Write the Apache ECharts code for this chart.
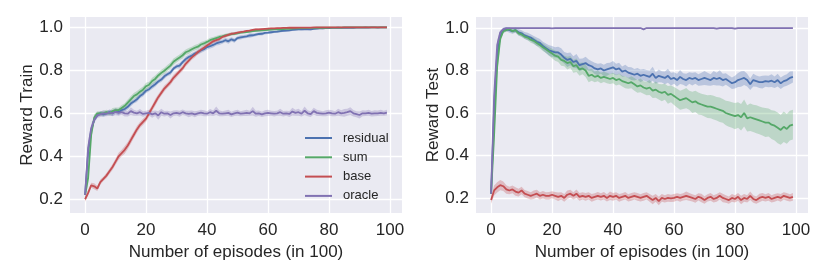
<!DOCTYPE html>
<html>
<head>
<meta charset="utf-8">
<script src="https://cdn.jsdelivr.net/npm/echarts@6/dist/echarts.min.js"></script>
<style>html,body{margin:0;padding:0;background:#fff}#c{width:830px;height:277px}</style>
</head>
<body>
<div id="c"></div>
<script>
// ---------- data ----------
const episodes = Array.from({length: 100}, (_, i) => i);
const xTicks = [0, 20, 40, 60, 80, 100];
const yTicks = [0.2, 0.4, 0.6, 0.8, 1.0];
const seriesNames = ['residual', 'sum', 'base', 'oracle'];

// Reward Train (means)
const trainResidual = [0.22,0.42,0.52,0.57,0.59,0.60,0.595,0.60,0.605,0.60,
0.61,0.605,0.615,0.62,0.63,0.645,0.655,0.665,0.68,0.69,
0.705,0.712,0.725,0.735,0.748,0.757,0.772,0.782,0.79,0.808,
0.818,0.822,0.838,0.852,0.862,0.868,0.878,0.884,0.893,0.898,
0.908,0.912,0.918,0.925,0.93,0.933,0.94,0.935,0.944,0.938,
0.95,0.953,0.956,0.958,0.962,0.963,0.966,0.969,0.97,0.974,
0.975,0.977,0.979,0.98,0.982,0.984,0.985,0.986,0.988,0.989,
0.99,0.99,0.991,0.992,0.99,0.993,0.994,0.995,0.995,0.996,
0.996,0.997,0.997,0.998,0.997,0.998,0.998,0.999,0.998,0.999,
0.999,0.999,1.0,0.999,1.0,1.0,0.999,1.0,1.0,1.0];
const trainSum = [0.22,0.30,0.50,0.58,0.60,0.60,0.60,0.605,0.60,0.61,
0.615,0.615,0.625,0.635,0.65,0.665,0.68,0.688,0.70,0.71,
0.726,0.733,0.75,0.76,0.776,0.788,0.798,0.81,0.822,0.84,
0.85,0.86,0.87,0.884,0.89,0.898,0.905,0.91,0.92,0.925,
0.932,0.94,0.945,0.95,0.955,0.958,0.962,0.965,0.968,0.97,
0.972,0.975,0.977,0.978,0.98,0.982,0.984,0.985,0.986,0.987,
0.988,0.989,0.99,0.99,0.991,0.992,0.993,0.993,0.994,0.995,
0.995,0.996,0.996,0.997,0.997,0.997,0.998,0.998,0.998,0.998,
0.999,0.999,0.999,0.999,0.999,1.0,1.0,1.0,1.0,1.0,
1.0,1.0,1.0,1.0,1.0,1.0,1.0,1.0,1.0,1.0];
const trainBase = [0.20,0.23,0.265,0.26,0.25,0.28,0.295,0.31,0.33,0.35,
0.375,0.40,0.415,0.43,0.45,0.475,0.50,0.525,0.545,0.56,
0.575,0.60,0.625,0.65,0.675,0.695,0.715,0.73,0.745,0.765,
0.78,0.795,0.81,0.83,0.845,0.86,0.872,0.885,0.895,0.905,
0.915,0.925,0.935,0.94,0.945,0.955,0.96,0.965,0.97,0.972,
0.975,0.978,0.98,0.983,0.985,0.988,0.99,0.99,0.992,0.993,
0.994,0.995,0.995,0.996,0.996,0.997,0.997,0.998,0.998,0.998,
0.999,0.999,0.999,0.999,0.999,1.0,1.0,1.0,1.0,1.0,
1.0,1.0,1.0,1.0,1.0,1.0,1.0,1.0,1.0,1.0,
1.0,1.0,1.0,1.0,1.0,1.0,1.0,1.0,1.0,1.0];
const trainOracle = [0.22,0.44,0.53,0.57,0.59,0.595,0.60,0.598,0.603,0.60,
0.607,0.602,0.605,0.60,0.598,0.61,0.603,0.60,0.605,0.597,
0.60,0.602,0.595,0.60,0.59,0.605,0.598,0.60,0.592,0.60,
0.602,0.598,0.605,0.60,0.597,0.60,0.595,0.60,0.603,0.60,
0.598,0.605,0.60,0.612,0.60,0.598,0.60,0.602,0.595,0.60,
0.603,0.598,0.60,0.602,0.60,0.61,0.598,0.60,0.595,0.60,
0.602,0.60,0.598,0.60,0.605,0.598,0.60,0.597,0.608,0.602,
0.605,0.598,0.612,0.60,0.596,0.61,0.602,0.60,0.598,0.60,
0.603,0.60,0.598,0.605,0.60,0.602,0.605,0.61,0.60,0.596,
0.592,0.60,0.60,0.602,0.598,0.60,0.60,0.602,0.60,0.603];

// Reward Train (band half-widths)
const trainResidualSd = [0.02,0.02,0.015,0.012,0.01,0.01,0.012,0.01,0.012,0.014,
0.012,0.014,0.012,0.01,0.012,0.012,0.01,0.012,0.01,0.012,
0.012,0.01,0.012,0.012,0.01,0.012,0.012,0.01,0.012,0.01,
0.01,0.012,0.01,0.012,0.01,0.012,0.01,0.01,0.012,0.01,
0.012,0.01,0.012,0.01,0.012,0.01,0.01,0.012,0.01,0.01,
0.008,0.01,0.008,0.008,0.01,0.008,0.008,0.007,0.008,0.007,
0.006,0.007,0.006,0.006,0.006,0.005,0.006,0.005,0.005,0.005,
0.004,0.005,0.004,0.004,0.005,0.004,0.004,0.003,0.004,0.003,
0.003,0.003,0.003,0.003,0.003,0.002,0.002,0.002,0.002,0.002,
0.002,0.002,0.002,0.002,0.002,0.002,0.002,0.002,0.002,0.002];
const trainSumSd = [0.02,0.03,0.02,0.015,0.01,0.01,0.012,0.012,0.01,0.014,
0.012,0.012,0.014,0.012,0.014,0.015,0.014,0.016,0.014,0.015,
0.016,0.014,0.015,0.016,0.014,0.015,0.014,0.015,0.014,0.015,
0.014,0.013,0.015,0.013,0.014,0.012,0.013,0.012,0.012,0.011,
0.01,0.011,0.01,0.01,0.009,0.008,0.008,0.008,0.007,0.007,
0.006,0.006,0.006,0.005,0.005,0.005,0.005,0.004,0.004,0.004,
0.004,0.004,0.003,0.003,0.003,0.003,0.003,0.003,0.003,0.003,
0.002,0.002,0.002,0.002,0.002,0.002,0.002,0.002,0.002,0.002,
0.002,0.002,0.002,0.002,0.002,0.002,0.002,0.002,0.002,0.002,
0.002,0.002,0.002,0.002,0.002,0.002,0.002,0.002,0.002,0.002];
const trainBaseSd = [0.012,0.012,0.012,0.014,0.012,0.012,0.01,0.012,0.012,0.014,
0.014,0.016,0.015,0.018,0.016,0.017,0.015,0.016,0.014,0.015,
0.014,0.015,0.014,0.016,0.014,0.013,0.014,0.012,0.013,0.014,
0.013,0.012,0.013,0.012,0.012,0.011,0.012,0.011,0.01,0.011,
0.01,0.01,0.009,0.01,0.009,0.008,0.008,0.007,0.007,0.006,
0.006,0.006,0.005,0.005,0.005,0.004,0.004,0.004,0.004,0.003,
0.003,0.003,0.003,0.003,0.003,0.003,0.002,0.002,0.002,0.002,
0.002,0.002,0.002,0.002,0.002,0.002,0.002,0.002,0.002,0.002,
0.002,0.002,0.002,0.002,0.002,0.002,0.002,0.002,0.002,0.002,
0.002,0.002,0.002,0.002,0.002,0.002,0.002,0.002,0.002,0.002];
const trainOracleSd = [0.02,0.03,0.02,0.015,0.012,0.012,0.014,0.012,0.015,0.013,
0.016,0.014,0.012,0.015,0.013,0.018,0.014,0.012,0.015,0.013,
0.012,0.014,0.016,0.013,0.02,0.016,0.013,0.012,0.016,0.013,
0.012,0.014,0.013,0.012,0.015,0.013,0.014,0.012,0.013,0.014,
0.012,0.015,0.013,0.02,0.014,0.012,0.013,0.014,0.012,0.013,
0.014,0.012,0.013,0.015,0.012,0.02,0.014,0.013,0.012,0.014,
0.015,0.012,0.013,0.012,0.016,0.013,0.012,0.014,0.018,0.014,
0.016,0.013,0.02,0.014,0.013,0.016,0.015,0.013,0.012,0.014,
0.013,0.014,0.012,0.016,0.014,0.018,0.016,0.018,0.015,0.014,
0.016,0.014,0.013,0.014,0.013,0.014,0.013,0.014,0.012,0.013];

// Reward Test (means)
const testResidual = [0.22,0.62,0.88,0.96,0.99,0.995,0.99,0.985,0.99,0.98,
0.975,0.965,0.96,0.955,0.945,0.935,0.93,0.915,0.905,0.895,
0.89,0.885,0.885,0.875,0.86,0.85,0.855,0.84,0.845,0.825,
0.83,0.835,0.825,0.82,0.81,0.805,0.81,0.80,0.805,0.81,
0.815,0.805,0.81,0.795,0.80,0.79,0.785,0.78,0.785,0.775,
0.78,0.775,0.77,0.785,0.765,0.775,0.77,0.765,0.775,0.76,
0.765,0.755,0.77,0.76,0.755,0.765,0.76,0.765,0.755,0.76,
0.765,0.76,0.755,0.765,0.76,0.765,0.755,0.76,0.75,0.74,
0.745,0.755,0.76,0.765,0.755,0.735,0.755,0.75,0.745,0.745,
0.75,0.748,0.752,0.745,0.755,0.74,0.75,0.755,0.765,0.77];
const testSum = [0.22,0.50,0.82,0.95,0.985,0.99,0.995,0.985,0.99,0.975,
0.97,0.96,0.955,0.945,0.94,0.93,0.92,0.91,0.90,0.89,
0.88,0.87,0.865,0.85,0.845,0.835,0.84,0.82,0.825,0.805,
0.81,0.80,0.775,0.78,0.77,0.775,0.765,0.77,0.765,0.76,
0.765,0.755,0.76,0.75,0.745,0.74,0.745,0.735,0.725,0.73,
0.72,0.715,0.72,0.705,0.71,0.70,0.695,0.70,0.685,0.69,
0.68,0.67,0.66,0.665,0.67,0.66,0.65,0.655,0.645,0.64,
0.635,0.63,0.63,0.625,0.62,0.615,0.61,0.60,0.595,0.59,
0.585,0.59,0.58,0.60,0.575,0.58,0.575,0.57,0.565,0.56,
0.555,0.555,0.545,0.54,0.53,0.52,0.535,0.525,0.54,0.545];
const testBase = [0.19,0.235,0.25,0.26,0.255,0.24,0.235,0.24,0.23,0.225,
0.235,0.22,0.215,0.21,0.215,0.22,0.21,0.215,0.21,0.21,
0.215,0.21,0.205,0.21,0.20,0.215,0.22,0.21,0.22,0.205,
0.21,0.205,0.21,0.20,0.205,0.21,0.205,0.21,0.20,0.21,
0.205,0.21,0.20,0.205,0.21,0.20,0.205,0.21,0.205,0.20,
0.205,0.21,0.20,0.19,0.20,0.185,0.20,0.195,0.20,0.198,
0.20,0.205,0.20,0.205,0.21,0.205,0.20,0.195,0.205,0.20,
0.19,0.20,0.205,0.195,0.20,0.21,0.20,0.195,0.19,0.20,
0.195,0.205,0.19,0.20,0.195,0.21,0.195,0.19,0.20,0.205,
0.20,0.205,0.195,0.20,0.205,0.20,0.21,0.205,0.20,0.205];
const testOracle = [0.22,0.68,0.92,0.98,0.995,1.0,1.0,1.0,1.0,1.0,
1.0,1.0,1.0,1.0,1.0,1.0,1.0,1.0,1.0,1.0,
0.998,1.0,1.0,1.0,1.0,1.0,1.0,1.0,1.0,1.0,
1.0,1.0,1.0,1.0,1.0,1.0,1.0,1.0,1.0,1.0,
1.0,1.0,1.0,1.0,1.0,1.0,1.0,1.0,1.0,1.0,
0.994,1.0,1.0,1.0,1.0,1.0,1.0,1.0,1.0,1.0,
1.0,1.0,1.0,1.0,1.0,1.0,1.0,1.0,1.0,1.0,
1.0,1.0,1.0,1.0,0.997,1.0,1.0,1.0,1.0,1.0,
0.997,1.0,1.0,1.0,1.0,1.0,1.0,1.0,1.0,1.0,
1.0,1.0,1.0,1.0,1.0,1.0,1.0,1.0,1.0,1.0];

// Reward Test (band half-widths)
const testResidualSd = [0.02,0.05,0.035,0.018,0.012,0.01,0.012,0.012,0.012,0.015,
0.015,0.016,0.018,0.016,0.018,0.02,0.018,0.02,0.022,0.024,
0.026,0.024,0.027,0.03,0.027,0.033,0.03,0.027,0.033,0.03,
0.027,0.03,0.027,0.024,0.027,0.027,0.024,0.027,0.03,0.027,
0.03,0.027,0.027,0.024,0.027,0.027,0.03,0.027,0.027,0.03,
0.027,0.027,0.03,0.033,0.027,0.03,0.027,0.03,0.033,0.03,
0.027,0.03,0.033,0.027,0.03,0.027,0.03,0.027,0.027,0.03,
0.033,0.03,0.027,0.033,0.03,0.036,0.03,0.027,0.027,0.027,
0.03,0.033,0.036,0.033,0.03,0.027,0.03,0.027,0.027,0.03,
0.027,0.027,0.03,0.027,0.03,0.027,0.027,0.027,0.03,0.027];
const testSumSd = [0.02,0.05,0.04,0.02,0.01,0.008,0.008,0.01,0.01,0.01,
0.012,0.012,0.012,0.014,0.015,0.015,0.016,0.018,0.018,0.02,
0.022,0.024,0.025,0.028,0.025,0.03,0.028,0.03,0.032,0.03,
0.028,0.03,0.03,0.028,0.025,0.025,0.025,0.024,0.025,0.024,
0.025,0.025,0.026,0.025,0.028,0.026,0.028,0.03,0.03,0.032,
0.03,0.032,0.035,0.034,0.038,0.036,0.04,0.038,0.042,0.04,
0.042,0.044,0.045,0.046,0.048,0.045,0.05,0.05,0.052,0.05,
0.052,0.054,0.055,0.056,0.055,0.058,0.056,0.058,0.06,0.06,
0.062,0.06,0.062,0.064,0.062,0.065,0.064,0.066,0.065,0.066,
0.068,0.066,0.068,0.07,0.072,0.07,0.072,0.07,0.07,0.07];
const testBaseSd = [0.018,0.024,0.024,0.024,0.022,0.02,0.018,0.018,0.02,0.018,
0.018,0.017,0.018,0.017,0.02,0.018,0.017,0.018,0.017,0.018,
0.017,0.018,0.02,0.017,0.018,0.02,0.018,0.017,0.02,0.018,
0.017,0.018,0.017,0.018,0.017,0.018,0.017,0.018,0.017,0.02,
0.018,0.017,0.018,0.017,0.018,0.017,0.018,0.017,0.018,0.017,
0.018,0.017,0.018,0.02,0.018,0.02,0.018,0.017,0.018,0.017,
0.018,0.017,0.018,0.017,0.02,0.018,0.017,0.018,0.017,0.02,
0.018,0.017,0.018,0.017,0.018,0.017,0.02,0.018,0.017,0.018,
0.017,0.018,0.02,0.018,0.017,0.02,0.018,0.017,0.02,0.018,
0.017,0.018,0.017,0.018,0.017,0.018,0.017,0.018,0.017,0.018];
const testOracleSd = [0.02,0.04,0.02,0.01,0.004,0.002,0.002,0.002,0.002,0.002,
0.002,0.002,0.002,0.002,0.002,0.002,0.002,0.002,0.002,0.002,
0.002,0.002,0.002,0.002,0.002,0.002,0.002,0.002,0.002,0.002,
0.002,0.002,0.002,0.002,0.002,0.002,0.002,0.002,0.002,0.002,
0.002,0.002,0.002,0.002,0.002,0.002,0.002,0.002,0.002,0.002,
0.003,0.002,0.002,0.002,0.002,0.002,0.002,0.002,0.002,0.002,
0.002,0.002,0.002,0.002,0.002,0.002,0.002,0.002,0.002,0.002,
0.002,0.002,0.002,0.002,0.003,0.002,0.002,0.002,0.002,0.002,
0.003,0.002,0.002,0.002,0.002,0.002,0.002,0.002,0.002,0.002,
0.002,0.002,0.002,0.002,0.002,0.002,0.002,0.002,0.002,0.002];

// ---------- styling ----------
const colors = ['#4C72B0', '#55A868', '#C44E52', '#8172B2'];
const FONT = '"Liberation Sans", Arial, sans-serif';
const TXT = '#262626';
const FS = 17;

const trainMeans = [trainResidual, trainSum, trainBase, trainOracle];
const trainSds = [trainResidualSd, trainSumSd, trainBaseSd, trainOracleSd];
const testMeans = [testResidual, testSum, testBase, testOracle];
const testSds = [testResidualSd, testSumSd, testBaseSd, testOracleSd];

function hexA(hex, a) {
  const n = parseInt(hex.slice(1), 16);
  return `rgba(${(n >> 16) & 255},${(n >> 8) & 255},${n & 255},${a})`;
}

function buildSeries(gi, means, sds) {
  const out = [];
  // confidence bands: one polygon per series, mapped through the axes via api.coord
  means.forEach((m, k) => {
    const rows = episodes.map((x, i) => [x, m[i] - sds[k][i], m[i] + sds[k][i]]);
    out.push({
      type: 'custom', xAxisIndex: gi, yAxisIndex: gi, silent: true, z: 2,
      data: [[episodes[0], m[0]]],
      clip: true,
      renderItem: function (params, api) {
        const upper = rows.map(r => api.coord([r[0], r[2]]));
        const lower = rows.map(r => api.coord([r[0], r[1]])).reverse();
        return {
          type: 'polygon',
          shape: {points: upper.concat(lower)},
          style: {fill: hexA(colors[k], 0.3), stroke: 'none'}
        };
      }
    });
  });
  // mean lines
  means.forEach((m, k) => {
    out.push({
      name: seriesNames[k], type: 'line', xAxisIndex: gi, yAxisIndex: gi,
      symbol: 'none', z: 3, color: colors[k],
      lineStyle: {color: colors[k], width: 1.8},
      data: episodes.map((x, i) => [x, m[i]])
    });
  });
  return out;
}

function xAx(gi) {
  return {
    type: 'value', gridIndex: gi, min: -4.95, max: 103.95,
    axisLine: {show: false},
    axisTick: {show: false, customValues: xTicks},
    axisLabel: {customValues: xTicks, fontSize: FS, color: TXT, fontFamily: FONT, margin: 9},
    splitLine: {show: true, lineStyle: {color: '#ffffff', width: 1.3}},
    name: 'Number of episodes (in 100)', nameLocation: 'middle', nameGap: 29,
    nameTextStyle: {fontSize: FS, color: TXT, fontFamily: FONT}
  };
}
function yAx(gi, lo, hi, name) {
  return {
    type: 'value', gridIndex: gi, min: lo, max: hi,
    axisLine: {show: false},
    axisTick: {show: false, customValues: yTicks},
    axisLabel: {customValues: yTicks, fontSize: FS, color: TXT, fontFamily: FONT, margin: 7,
      formatter: v => v.toFixed(1)},
    splitLine: {show: true, lineStyle: {color: '#ffffff', width: 1.3}},
    name: name, nameLocation: 'middle', nameGap: 34,
    nameTextStyle: {fontSize: FS, color: TXT, fontFamily: FONT}
  };
}

const chart = echarts.init(document.getElementById('c'), null, {renderer: 'canvas'});
chart.setOption({
  animation: false,
  backgroundColor: '#ffffff',
  grid: [
    {left: 70, top: 17, width: 332, height: 196, show: true, backgroundColor: '#EAEAF2', borderWidth: 0},
    {left: 476, top: 17, width: 332, height: 196, show: true, backgroundColor: '#EAEAF2', borderWidth: 0}
  ],
  xAxis: [xAx(0), xAx(1)],
  yAxis: [yAx(0, 0.136, 1.048, 'Reward Train'), yAx(1, 0.129, 1.052, 'Reward Test')],
  legend: {
    data: seriesNames, orient: 'vertical', left: 305, top: 131.5, padding: 0,
    icon: 'rect', itemWidth: 27, itemHeight: 2, itemGap: 6.3,
    textStyle: {fontSize: 13, color: TXT, fontFamily: FONT, padding: [0, 0, 0, 6]}
  },
  series: buildSeries(0, trainMeans, trainSds).concat(buildSeries(1, testMeans, testSds))
});
</script>
</body>
</html>
